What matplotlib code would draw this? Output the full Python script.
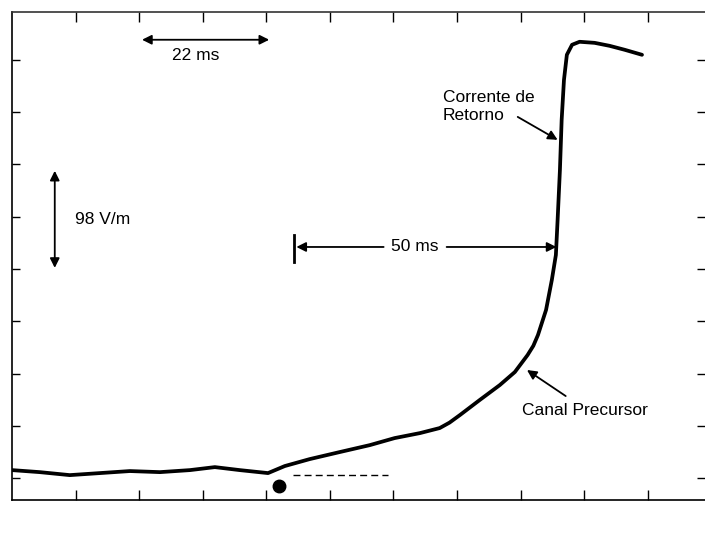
import numpy as np
import matplotlib.pyplot as plt

plt.rcParams['font.family'] = ['Liberation Sans', 'DejaVu Sans']

# campo eletrico medido (tempo em ms, campo em V/m)
t_ms = [0, 4.8, 10.0, 15.2, 20.4, 25.6, 30.8, 35.1, 39.4, 44.3, 47.2, 51.5, 56.7,
        61.9, 66.2, 70.6, 74.0, 75.7, 77.5, 80.9, 84.4, 87.0, 89.2, 90.2, 91.0,
        92.4, 93.4, 94.1, 94.4, 94.8, 95.1, 95.5, 96.0, 96.9, 98.2, 100.8, 103.4,
        106.0, 109.0]
campo = [7.5, 5.6, 2.8, 4.7, 6.6, 5.6, 7.5, 10.3, 7.5, 4.7, 11.3, 17.8, 24.4,
         30.9, 37.5, 42.2, 46.9, 52.0, 59.1, 73.1, 87.2, 99.4, 115.3, 124.0, 134.1,
         157.6, 185.7, 209.1, 242.0, 288.8, 335.7, 373.2, 396.7, 406.1, 408.9,
         407.9, 405.1, 401.4, 396.7]

div_t = 11.0   # ms por divisao
div_e = 49.0   # V/m por divisao
xticks = [div_t * k for k in range(1, 11)]
yticks = [div_e * k for k in range(0, 9)]

fig = plt.figure(figsize=(7.05, 5.36), dpi=100)
ax = fig.add_axes([0.017, 0.067, 0.983, 0.911])
ax.plot(t_ms, campo, color='black', lw=2.7, solid_joinstyle='round',
        solid_capstyle='round')

ax.set_xlim(0, 119.9)
ax.set_ylim(-20.6, 437)
ax.set_xticks(xticks)
ax.set_yticks(yticks)
ax.tick_params(which='both', direction='in', length=7, width=1,
               top=True, right=True, labelbottom=False, labelleft=False)
ax.tick_params(axis='y', which='both', right=True, length=6)
for s in ['left', 'bottom', 'top']:
    ax.spines[s].set_linewidth(1.2)
ax.spines['top'].set_color('#333333')
ax.spines['right'].set_visible(False)

fs = 12.5
arr = dict(arrowstyle='<|-|>', color='black', lw=1.3, mutation_scale=14, shrinkA=0, shrinkB=0)
one = dict(arrowstyle='-|>', color='black', lw=1.3, mutation_scale=14, shrinkA=0, shrinkB=0)

# 22 ms
ax.annotate('', xy=(44.5, 410.8), xytext=(22.5, 410.8), arrowprops=arr)
ax.text(31.8, 396.0, '22 ms', fontsize=fs, ha='center', va='center')

# 98 V/m
ax.annotate('', xy=(7.4, 197), xytext=(7.4, 288), arrowprops=arr)
ax.text(10.9, 242, '98 V/m', fontsize=fs, ha='left', va='center')

# 50 ms
ax.plot([48.8, 48.8], [202.6, 228], color='black', lw=2)
ax.annotate('', xy=(49.2, 216.6), xytext=(64.3, 216.6), arrowprops=one)
ax.annotate('', xy=(94.2, 216.6), xytext=(75.2, 216.6), arrowprops=one)
ax.text(69.7, 216.6, '50 ms', fontsize=fs, ha='center', va='center')

# corrente de retorno
ax.text(74.5, 348, 'Corrente de\nRetorno', fontsize=fs, ha='left', va='center',
        linespacing=1.25)
ax.annotate('', xy=(94.4, 317), xytext=(87.5, 338.5), arrowprops=one)

# canal precursor
ax.text(88.2, 63.8, 'Canal Precursor', fontsize=fs, ha='left', va='center')
ax.annotate('', xy=(89.1, 101.3), xytext=(95.8, 76.9), arrowprops=one)

# inicio
ax.plot([46.2], [-7.5], 'o', color='black', ms=9)
ax.plot([48.6, 65.0], [2.8, 2.8], color='black', lw=1, ls=(0, (5, 3)))

fig.savefig('out.png', dpi=100)
